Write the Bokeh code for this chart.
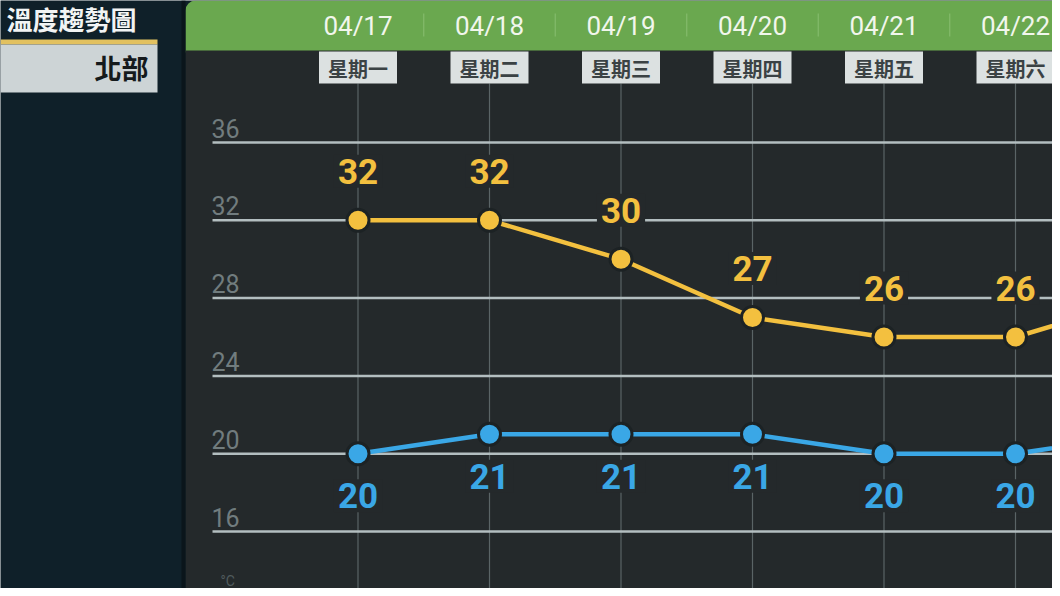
from bokeh.plotting import figure
from bokeh.models import Range1d, BoxAnnotation, ColumnDataSource, CDSView, IndexFilter
from bokeh.core.properties import value
from bokeh.embed import file_html
from bokeh.resources import INLINE

# ---------------- data ----------------
dates = ["04/17", "04/18", "04/19", "04/20", "04/21", "04/22", "04/23"]
weekdays = ["星期一", "星期二", "星期三", "星期四", "星期五", "星期六", "星期日"]
highs = [32, 32, 30, 27, 26, 26, 28]
lows = [20, 21, 21, 21, 20, 20, 21]
y_ticks = [16, 20, 24, 28, 32, 36]
tick_labels = ["16", "20", "24", "28", "32", "36"]
title_text = "溫度趨勢圖"
region_text = "北部"
unit_text = "°C"
visible_days = 6   # days whose labels fall inside the picture

# ---------------- layout helpers (reference pixel -> data) ----------------
W, H = 1052, 588
DAY0_PX, DAY_PX = 357.5, 131.5
T_REF, T_REF_PX, DEG_PX = 36.0, 142.0, 19.45


def dx(px):
    return (px - DAY0_PX) / DAY_PX


def dy(py):
    return T_REF - (py - T_REF_PX) / DEG_PX


x_range = Range1d(dx(0), dx(W))
y_range = Range1d(dy(H), dy(0))

BG_LEFT = "#0f2029"
BG_CHART = "#24292b"
GREEN = "#6aa84f"
YELLOW = "#f3c03f"
BLUE = "#3aa7e6"
GRID = "#b3bec0"
TICK = "#717c7e"
NUM_FONT = value("Roboto")
CJK_FONT = value("Noto Sans CJK TC")

p = figure(width=W, height=H, x_range=x_range, y_range=y_range,
           x_axis_location=None, y_axis_location=None,
           toolbar_location=None, output_backend="svg",
           min_border=0, min_border_left=0, min_border_right=0,
           min_border_top=0, min_border_bottom=0,
           background_fill_color=BG_LEFT, border_fill_color=BG_LEFT,
           outline_line_color=None)
p.grid.visible = False

# ---------------- panels ----------------
p.add_layout(BoxAnnotation(left=dx(185), right=dx(1080), top=dy(0), bottom=dy(52),
                           fill_color=GREEN, fill_alpha=1, line_color=None,
                           border_radius=(10, 0, 0, 0), level="underlay"))
p.add_layout(BoxAnnotation(left=dx(185), right=dx(1080), top=dy(50), bottom=dy(600),
                           fill_color=BG_CHART, fill_alpha=1, line_color=None,
                           level="underlay"))
p.add_layout(BoxAnnotation(left=dx(181), right=dx(185), top=dy(0), bottom=dy(600),
                           fill_color="#0a151b", fill_alpha=1, line_color=None,
                           level="underlay"))

# left panel title / region box
p.quad(left=dx(0), right=dx(157), top=dy(39), bottom=dy(44), fill_color="#e2c160", line_color=None)
p.quad(left=dx(0), right=dx(157), top=dy(44), bottom=dy(92), fill_color="#cdd4d6", line_color=None)
p.text(x=[dx(6)], y=[dy(18)], text=[title_text], text_font=CJK_FONT, text_font_size="26px",
       text_font_style="bold", text_color="#f2f4f4", text_align="left", text_baseline="middle")
p.text(x=[dx(148)], y=[dy(67)], text=[region_text], text_font=CJK_FONT, text_font_size="27px",
       text_font_style="bold", text_color="#151a1c", text_align="right", text_baseline="middle")

idx = list(range(len(dates)))
src = ColumnDataSource(dict(x=idx, date=dates, wd=weekdays, hi=highs, lo=lows,
                            hi_t=[str(v) for v in highs], lo_t=[str(v) for v in lows],
                            sep=[i + 0.5 for i in idx]))
vis = CDSView(filter=IndexFilter(list(range(visible_days))))

# header separators
p.segment(x0="sep", x1="sep", y0=dy(13), y1=dy(36), source=src, line_color="#84bb6b", line_width=1.2)
# date labels
p.text(x="x", y=dy(25), text="date", source=src, view=vis, text_font=NUM_FONT, text_font_size="26px",
       text_color="#f1f6ec", text_align="center", text_baseline="middle")

# vertical day lines
p.segment(x0="x", x1="x", y0=dy(83), y1=dy(600), source=src, line_color="#5a6466", line_width=1.2)

# weekday boxes
p.rect(x="x", y=dy(67), width=78, height=32, width_units="screen", height_units="screen",
       source=src, view=vis, fill_color="#dce1e1", line_color=None)
p.text(x="x", y=dy(68), text="wd", source=src, view=vis, text_font=CJK_FONT, text_font_size="20px",
       text_font_style="bold", text_color="#3b4244", text_align="center", text_baseline="middle")

# horizontal grid lines and tick labels
tick_src = ColumnDataSource(dict(y=y_ticks, t=tick_labels))
p.segment(x0=dx(212), x1=dx(1080), y0="y", y1="y", source=tick_src, line_color=GRID, line_width=2.5)
p.text(x=dx(211), y="y", text="t", source=tick_src, y_offset=-5, text_font=NUM_FONT,
       text_font_size="25px", text_color=TICK, text_align="left", text_baseline="bottom")
p.text(x=[dx(220)], y=[dy(580)], text=[unit_text], text_font=NUM_FONT, text_font_size="14px",
       text_color="#505b5d", text_align="left", text_baseline="middle")

# series lines and markers
p.line("x", "hi", source=src, line_color=YELLOW, line_width=4.5)
p.line("x", "lo", source=src, line_color=BLUE, line_width=4.5)
p.scatter("x", "hi", source=src, size=22, fill_color=YELLOW, line_color="#1c2224", line_width=3)
p.scatter("x", "lo", source=src, size=22, fill_color=BLUE, line_color="#1c2224", line_width=3)

# value labels
p.text(x="x", y="hi", text="hi_t", source=src, view=vis, y_offset=-49, text_font=NUM_FONT,
       text_font_size="35px", text_font_style="bold", text_color=YELLOW,
       text_align="center", text_baseline="middle",
       background_fill_color=BG_CHART, padding=4)
p.text(x="x", y="lo", text="lo_t", source=src, view=vis, y_offset=42, text_font=NUM_FONT,
       text_font_size="35px", text_font_style="bold", text_color=BLUE,
       text_align="center", text_baseline="middle",
       background_fill_color=BG_CHART, padding=4)

open("out.html", "w").write(file_html(p, INLINE))
